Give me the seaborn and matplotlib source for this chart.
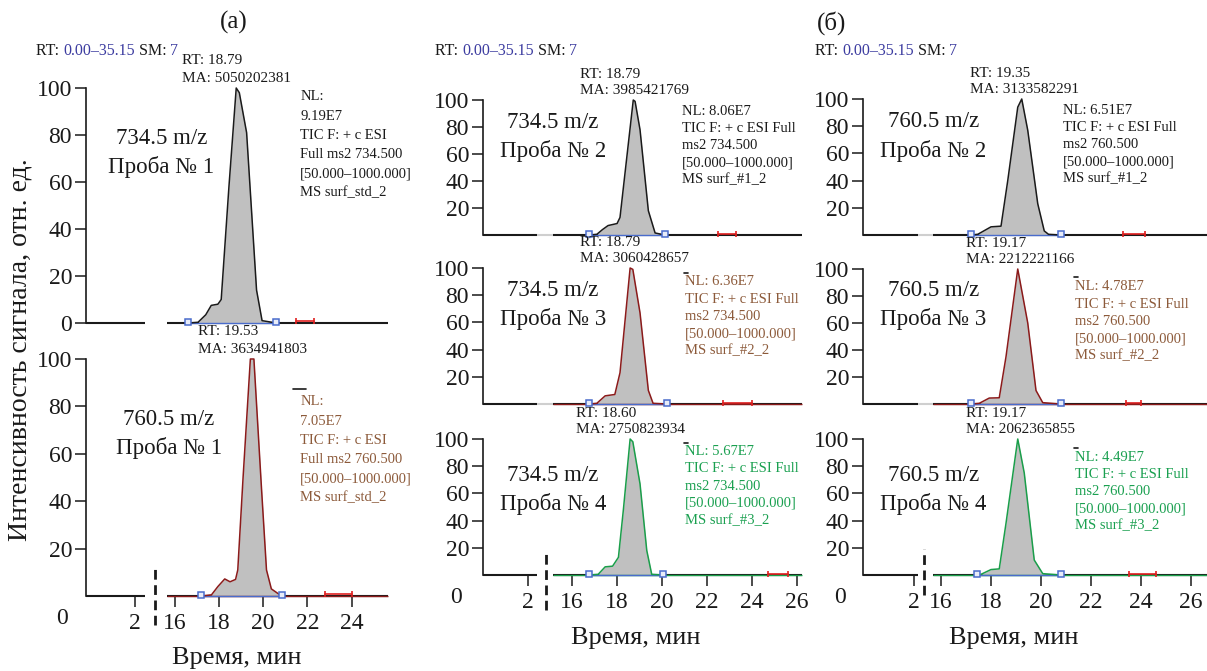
import numpy as np
import pandas as pd
import matplotlib
matplotlib.use("Agg")
import matplotlib.pyplot as plt
import seaborn as sns

# --- chromatogram data (time, min / relative intensity, %)
t_a1 = [16.6, 17.05, 17.4, 17.65, 17.95, 18.1, 18.45, 18.78, 18.92, 19.25, 19.7, 19.95, 20.6]
y_a1 = [0, 0.3, 3.5, 7.5, 8, 10, 58, 100, 98, 81, 14, 1, 0]
t_a2 = [17.2, 17.66, 17.95, 18.26, 18.5, 18.75, 18.85, 19.09, 19.42, 19.58, 19.92, 20.15, 20.37, 20.83]
y_a2 = [0, 0.5, 4, 7.2, 6, 7, 11, 50, 100, 100, 46, 11, 3, 0]
t_m1 = [16.77, 17.1, 17.35, 17.6, 18.0, 18.13, 18.72, 18.8, 19.02, 19.39, 19.69, 20.13]
y_m1 = [0, 0.5, 4, 7, 8.5, 13, 100, 99, 78, 18, 1.5, 0]
t_m2 = [16.77, 17.1, 17.47, 17.9, 18.13, 18.58, 18.7, 19.02, 19.39, 19.6, 20.2]
y_m2 = [0, 0.5, 6, 7, 23, 100, 99, 67, 10, 0.5, 0]
t_m3 = [16.77, 17.16, 17.47, 17.8, 18.06, 18.28, 18.58, 18.7, 19.02, 19.32, 19.54, 20.06]
y_m3 = [0, 0.5, 6, 6.5, 13, 48, 100, 98, 67, 18, 0.5, 0]
t_r1 = [17.21, 17.47, 18.0, 18.4, 18.67, 19.07, 19.23, 19.47, 19.87, 20.13, 20.3, 20.78]
y_r1 = [0, 0.5, 6, 6.5, 40, 94, 100, 77, 23, 3, 0.5, 0]
t_r2 = [17.21, 17.53, 17.93, 18.33, 18.6, 19.07, 19.47, 19.8, 20.07, 20.78]
y_r2 = [0, 0.5, 4.4, 4.6, 35, 100, 60, 10, 1, 0]
t_r3 = [17.43, 17.6, 18.0, 18.33, 18.6, 19.07, 19.33, 19.73, 20.07, 20.78]
y_r3 = [0, 0.5, 4, 4.5, 38, 100, 75, 11, 1, 0]

# integration limits (blue squares) and the small red marks
sq_a1, sq_a2 = [16.6, 20.6], [17.2, 20.83]
sq_m1, sq_m2, sq_m3 = [16.77, 20.13], [16.77, 20.2], [16.77, 20.06]
sq_r1, sq_r2, sq_r3 = [17.21, 20.78], [17.21, 20.78], [17.43, 20.78]
red_a1, red_a2 = [21.5, 22.3], [22.8, 24.0]
red_m1, red_m2, red_m3 = [22.5, 23.3], [22.7, 24.0], [24.7, 25.6]
red_r1, red_r2, red_r3 = [23.27, 24.15], [23.4, 24.0], [23.5, 24.6]

rt_vals = [18.79, 19.53, 18.79, 18.79, 18.60, 19.35, 19.17, 19.17]
ma_vals = ["5050202381", "3634941803", "3985421769", "3060428657",
           "2750823934", "3133582291", "2212221166", "2062365855"]
nl_vals = ["9.19E7", "7.05E7", "8.06E7", "6.36E7", "5.67E7", "6.51E7", "4.78E7", "4.49E7"]
mz_vals = ["734.5", "760.5", "734.5", "734.5", "734.5", "760.5", "760.5", "760.5"]
sample_no = [1, 1, 2, 3, 4, 2, 3, 4]
file_ids = ["surf_std_2", "surf_std_2", "surf_#1_2", "surf_#2_2", "surf_#3_2",
            "surf_#1_2", "surf_#2_2", "surf_#3_2"]
ticks_left = [2, 16, 18, 20, 22, 24]
ticks_wide = [2, 16, 18, 20, 22, 24, 26]

W, H = 1207, 671
c_black = "#1a1a1a"
c_red = "#8b1a1a"
c_green = "#1a9e4a"
c_brown = "#8c5a3a"
c_gtext = "#1aa050"
c_blue = "#3c3ca0"
c_sq = "#4a6ccc"

sns.set_theme(style="ticks")
plt.rcParams["font.family"] = ["Liberation Serif", "DejaVu Serif"]

fig = plt.figure(figsize=(W / 100, H / 100), dpi=100)


def px_rect(x0, x1, ytop, ybot):
    return [x0 / W, 1 - ybot / H, (x1 - x0) / W, (ybot - ytop) / H]


def broken(gap, a=2.5, b=15.5):
    # squeeze the empty 2.5..15.5 min stretch into a small gap
    def fwd(t):
        t = np.asarray(t, float)
        return np.where(t <= a, t, np.where(t >= b, t - b + a + gap, a + (t - a) * gap / (b - a)))

    def inv(u):
        u = np.asarray(u, float)
        return np.where(u <= a, u, np.where(u >= a + gap, u - a - gap + b, a + (u - a) * (b - a) / gap))
    return fwd, inv


cols = {
    "left": dict(gap=0.8, xlim=(-0.22, 25.65), hole=(2.45, 15.65), brk=9.0, ticks=ticks_left,
                 hole_col=None, nl_ls=1.62),
    "mid": dict(gap=0.96, xlim=(0.0, 26.22), hole=(2.4, 10.8), brk=6.6, ticks=ticks_wide,
                hole_col="#cfcfcf", nl_ls=1.42),
    "right": dict(gap=0.08, xlim=(-0.04, 26.64), hole=(2.16, 15.68), brk=2.4, ticks=ticks_wide,
                  hole_col="#cfcfcf", nl_ls=1.42),
}

# mark = small stray dash near the NL block: (x, y in axes fraction, length in px)
panels = [
    dict(rect=(86, 388, 88, 323), col="left", t=t_a1, y=y_a1, lc=c_black, tc=c_black, bottom=False,
         sq=sq_a1, red=red_a1, nl=(0.709, 0.99), lab=(0.25, 0.723), mark=None),
    dict(rect=(86, 388, 359, 596), col="left", t=t_a2, y=y_a2, lc=c_red, tc=c_brown, bottom=True,
         sq=sq_a2, red=red_a2, nl=(0.709, 0.846), lab=(0.275, 0.684), mark=(0.685, 0.873, 13),
         brk=(-0.122, 0.118), zero=(-13, -16), xl=(0.5, -0.262)),
    dict(rect=(483, 802, 100, 235), col="mid", t=t_m1, y=y_m1, lc=c_black, tc=c_black, bottom=False,
         sq=sq_m1, red=red_m1, nl=(0.624, 0.965), lab=(0.22, 0.726), mark=None),
    dict(rect=(483, 802, 268, 404), col="mid", t=t_m2, y=y_m2, lc=c_red, tc=c_brown, bottom=False,
         sq=sq_m2, red=red_m2, nl=(0.633, 0.945), lab=(0.22, 0.728), mark=(0.630, 0.963, 4)),
    dict(rect=(483, 802, 439, 575), col="mid", t=t_m3, y=y_m3, lc=c_green, tc=c_gtext, bottom=True,
         sq=sq_m3, red=red_m3, nl=(0.633, 0.955), lab=(0.22, 0.625), mark=(0.630, 0.97, 4),
         brk=(-0.257, 0.19), zero=(-15, -16), xl=(0.478, -0.463)),
    dict(rect=(863, 1207, 99, 235), col="right", t=t_r1, y=y_r1, lc=c_black, tc=c_black, bottom=False,
         sq=sq_r1, red=red_r1, nl=(0.581, 0.965), lab=(0.204, 0.726), mark=None),
    dict(rect=(863, 1207, 269, 404), col="right", t=t_r2, y=y_r2, lc=c_red, tc=c_brown, bottom=False,
         sq=sq_r2, red=red_r2, nl=(0.616, 0.915), lab=(0.204, 0.733), mark=(0.613, 0.94, 4)),
    dict(rect=(863, 1207, 439, 575), col="right", t=t_r3, y=y_r3, lc=c_green, tc=c_gtext, bottom=True,
         sq=sq_r3, red=red_r3, nl=(0.616, 0.915), lab=(0.204, 0.625), mark=(0.613, 0.934, 4),
         brk=(-0.147, 0.19), zero=(-12, -16), xl=(0.439, -0.463)),
]

axes = []
for i, p in enumerate(panels):
    c = cols[p["col"]]
    ax = fig.add_axes(px_rect(*p["rect"]))
    axes.append(ax)
    ax.set_xscale("function", functions=broken(c["gap"]))
    ax.set_xlim(*c["xlim"])
    ax.set_ylim(0, 100)
    ax.set_facecolor("none")
    for s in ["top", "right", "bottom"]:
        ax.spines[s].set_visible(False)
    ax.spines["left"].set_color(c_black)
    ax.spines["left"].set_linewidth(1.2)

    # x axis line with the cut
    lo, hi = c["xlim"]
    h0, h1 = c["hole"]
    ax.hlines(0, lo, h0, color=c_black, lw=1.5, zorder=2, clip_on=False)
    ax.hlines(0, h1, hi, color=c_black, lw=1.5, zorder=2, clip_on=False)
    if c["hole_col"] and not p["bottom"]:
        ax.hlines(0, h0, h1, color=c["hole_col"], lw=1.5, zorder=2, clip_on=False)
    if p["lc"] != c_black:
        ax.hlines(0, h1, hi, color=p["lc"], lw=1.0, zorder=3, clip_on=False)

    # trace
    ax.fill_between(p["t"], p["y"], 0, color="#c0c0c0", lw=0, zorder=2)
    ax.plot(p["sq"], [0, 0], color=c_sq, lw=1.0, zorder=3, clip_on=False)
    sns.lineplot(x=p["t"], y=p["y"], ax=ax, color=p["lc"], lw=1.1, zorder=4, clip_on=False)
    ax.plot(p["sq"], [0.6, 0.6], ls="none", marker="s", ms=4.5, mfc="#e8ecf8", mec=c_sq,
            mew=1.1, zorder=5, clip_on=False)
    ax.plot(p["red"], [1, 1], color="#e02020", lw=1.2, marker="|", ms=4, mew=1.2,
            zorder=5, clip_on=False)

    # ticks
    ax.set_yticks([0, 20, 40, 60, 80, 100] if i == 0 else [20, 40, 60, 80, 100])
    ax.tick_params(axis="y", direction="out", length=8, width=1.1, pad=2, labelsize=17,
                   colors=c_black)
    ax.xaxis.set_minor_locator(matplotlib.ticker.NullLocator())
    if p["bottom"]:
        ax.set_xticks(c["ticks"])
        ax.set_xticklabels([str(v) for v in c["ticks"]])
        ax.tick_params(axis="x", direction="out", length=8, width=1.1, pad=4, labelsize=17,
                       colors=c_black)
        ax.set_xlabel("Время, мин", fontsize=19, color=c_black)
        ax.xaxis.set_label_coords(*p["xl"])
        ax.xaxis.label.set_va("center")
        ax.plot([c["brk"], c["brk"]], list(p["brk"]), color=c_black, lw=2, ls=(0, (3.5, 2)),
                transform=ax.get_xaxis_transform(), clip_on=False, zorder=6)
        ax.annotate("0", xy=(0, 0), xycoords="axes fraction", xytext=p["zero"],
                    textcoords="offset points", ha="right", va="center", fontsize=17, color=c_black)
    else:
        ax.set_xticks([])
        ax.tick_params(axis="x", bottom=False, labelbottom=False)
    ax.set_ylabel("")

    # annotations
    ax.annotate(f"RT: {rt_vals[i]:.2f}\nMA: {ma_vals[i]}", xy=(rt_vals[i], 100), xytext=(0, 2),
                textcoords="offset points", ha="center", va="bottom", multialignment="left",
                fontsize=11, linespacing=1.55 if p["col"] == "left" else 1.3, color=c_black,
                annotation_clip=False)
    if p["col"] == "left":
        nl = (f"NL:\n{nl_vals[i]}\nTIC F: + c ESI\nFull ms2 {mz_vals[i]}00\n"
              f"[50.000–1000.000]\nMS {file_ids[i]}")
    else:
        nl = (f"NL: {nl_vals[i]}\nTIC F: + c ESI Full\nms2 {mz_vals[i]}00\n"
              f"[50.000–1000.000]\nMS {file_ids[i]}")
    ax.text(p["nl"][0], p["nl"][1], nl, transform=ax.transAxes, ha="left", va="top",
            fontsize=10.5, linespacing=c["nl_ls"], color=p["tc"])
    if p["mark"]:
        mx, my, mlen = p["mark"]
        ax.plot([mx, mx + mlen / (p["rect"][1] - p["rect"][0])], [my, my], color=c_black,
                lw=1.2, transform=ax.transAxes, clip_on=False, zorder=6)
    ax.text(p["lab"][0], p["lab"][1], f"{mz_vals[i]} m/z\nПроба № {sample_no[i]}",
            transform=ax.transAxes, ha="center", va="center", fontsize=16.5, linespacing=1.45,
            color=c_black)

# headers above each column
for x0, ax in [(36, axes[0]), (435, axes[2]), (815, axes[5])]:
    t1 = fig.text(x0 / W, 1 - 51 / H, "RT: ", fontsize=11.5, color=c_black, va="center")
    t2 = ax.annotate("0.00–35.15", xy=(1, 0), xycoords=t1, va="bottom", fontsize=11.5,
                     color=c_blue, annotation_clip=False)
    t3 = ax.annotate(" SM: ", xy=(1, 0), xycoords=t2, va="bottom", fontsize=11.5,
                     color=c_black, annotation_clip=False)
    ax.annotate("7", xy=(1, 0), xycoords=t3, va="bottom", fontsize=11.5, color=c_blue,
                annotation_clip=False)

fig.text(234 / W, 1 - 22 / H, "(a)", fontsize=18, ha="center", va="center", color=c_black)
fig.text(832 / W, 1 - 23 / H, "(б)", fontsize=18, ha="center", va="center", color=c_black)
fig.text(20 / W, 1 - 350 / H, "Интенсивность сигнала, отн. ед.", rotation=90, fontsize=20,
         ha="center", va="center", color=c_black)

fig.savefig("out.png", dpi=100)
